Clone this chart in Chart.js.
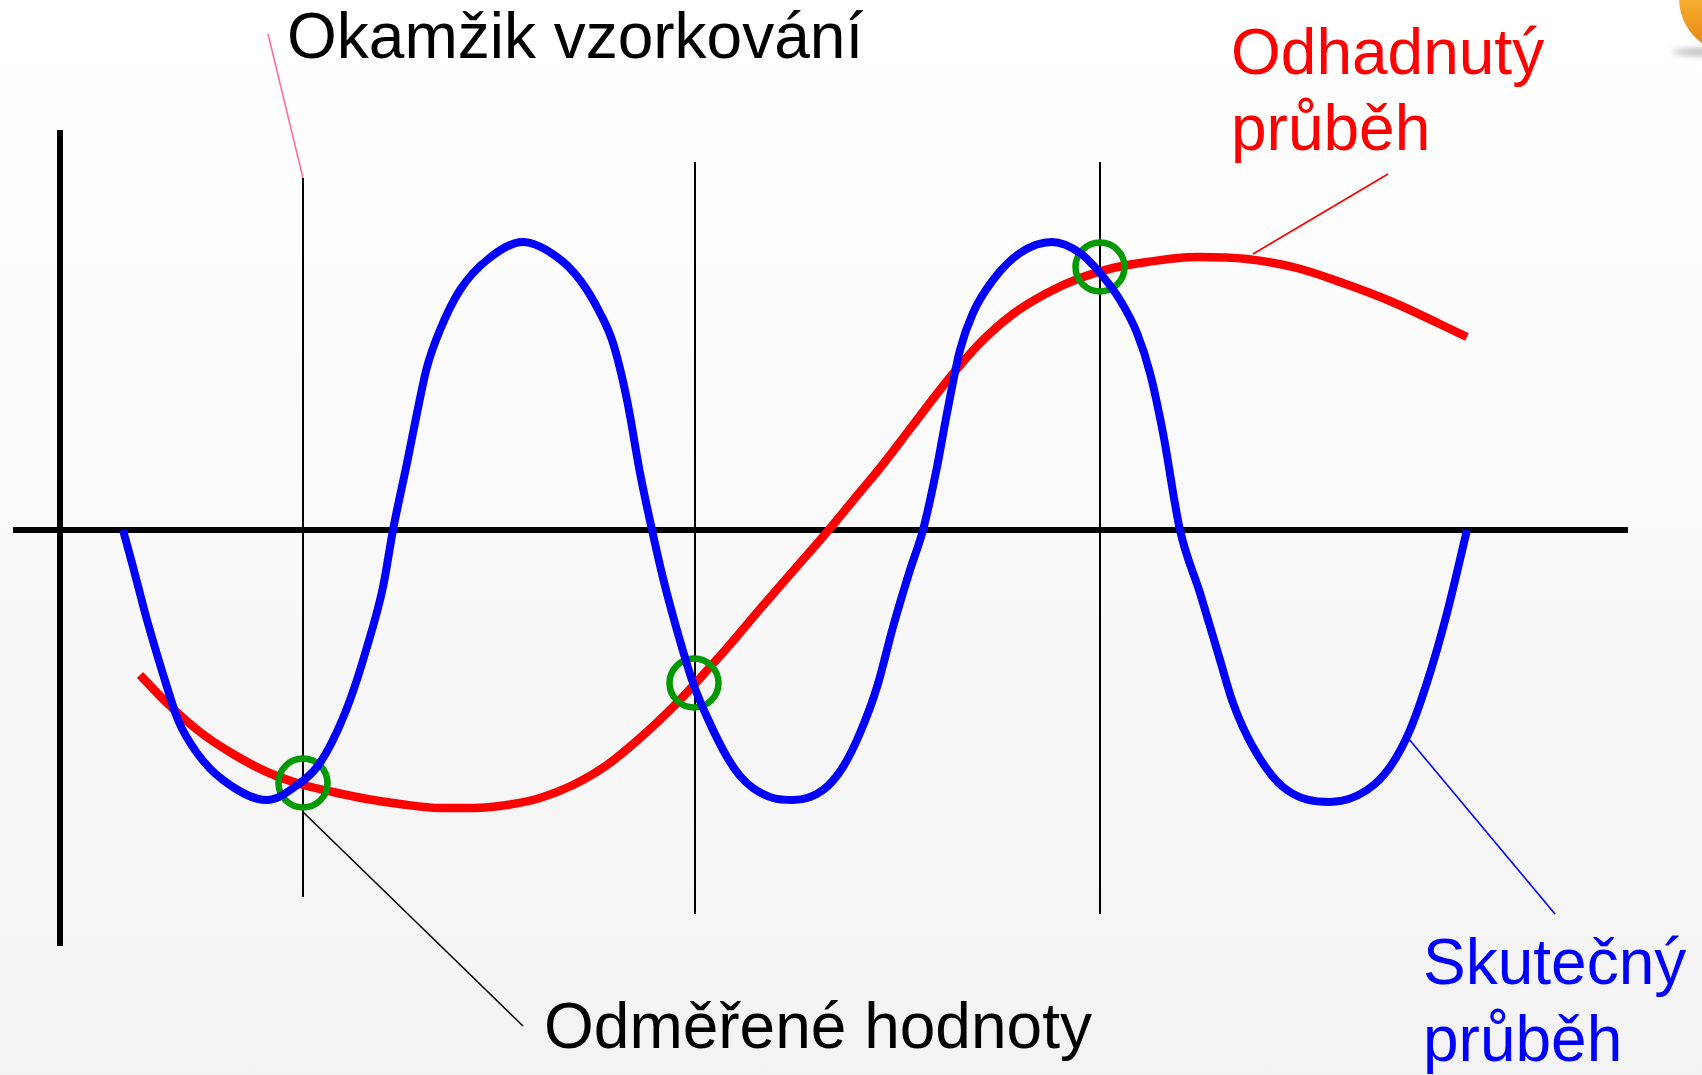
<!DOCTYPE html>
<html>
<head>
<meta charset="utf-8">
<script src="https://cdn.jsdelivr.net/npm/chart.js@4/dist/chart.umd.min.js"></script>
<style>
html,body{margin:0;padding:0;width:1702px;height:1075px;overflow:hidden;background:linear-gradient(#ffffff,#f3f3f3);}
canvas{display:block}
</style>
</head>
<body>
<canvas id="c" width="1702" height="1075"></canvas>
<script>
// ---- data (time t, amplitude v) ----
const actualT = [0.63,0.72,0.87,1.07,1.18,1.37,1.63,2.07,2.40,2.57,2.73,2.90,3.07,3.23,3.33,3.47,3.57,3.67,3.80,4.00,4.27,4.63,4.97,5.20,5.40,5.53,5.67,5.80,5.92,6.03,6.13,6.23,6.33,6.47,6.67,6.80,6.93,7.13,7.33,7.63,7.83,8.00,8.17,8.33,8.50,8.63,8.77,8.87,9.00,9.13,9.33,9.60,9.92,10.20,10.40,10.60,10.77,10.90,11.03,11.20,11.40,11.60,11.73,11.93,12.23,12.70,13.07,13.30,13.50,13.70,13.87,14.07];
const actualV = [0,-0.33,-0.90,-1.57,-1.90,-2.23,-2.50,-2.70,-2.53,-2.37,-2.10,-1.70,-1.17,-0.57,0,0.67,1.17,1.63,2.00,2.40,2.70,2.88,2.73,2.50,2.17,1.87,1.30,0.57,0,-0.48,-0.86,-1.21,-1.53,-1.87,-2.27,-2.46,-2.58,-2.68,-2.70,-2.60,-2.37,-2.03,-1.57,-0.97,-0.40,0,0.63,1.17,1.80,2.17,2.50,2.77,2.88,2.77,2.57,2.30,1.97,1.57,0.97,0,-0.63,-1.30,-1.73,-2.17,-2.57,-2.72,-2.60,-2.37,-2.00,-1.43,-0.83,0];

const estimatedT = [0.80,1.07,1.40,1.73,2.07,2.40,2.73,3.07,3.40,3.80,4.13,4.47,4.80,5.13,5.47,5.80,6.13,6.33,6.50,6.67,7.00,7.33,7.67,8.00,8.20,8.53,8.87,9.20,9.53,9.87,10.20,10.53,10.87,11.37,11.87,12.37,12.80,13.30,14.07];
const estimatedV = [-1.45,-1.73,-2.02,-2.24,-2.42,-2.54,-2.62,-2.69,-2.74,-2.78,-2.78,-2.75,-2.68,-2.55,-2.35,-2.08,-1.77,-1.56,-1.37,-1.18,-0.79,-0.41,-0.02,0.38,0.62,1.05,1.49,1.87,2.16,2.37,2.52,2.62,2.68,2.73,2.71,2.62,2.48,2.29,1.93];

const sampleT = [2.43, 6.34, 10.40];
const sampleV = [-2.53, -1.53, 2.63];
const sampleLineT = [2.43, 6.35, 10.40];
const sampleLineTop = [3.52, 3.68, 3.68];
const sampleLineBottom = [-3.67, -3.84, -3.84];

const xAxisT = [-0.47, 15.68];
const yAxisV = [4.00, -4.16];

const labelTexts = ['Okamžik vzorkování', 'Odhadnutý', 'průběh', 'Odměřené hodnoty', 'Skutečný', 'průběh'];

// leader lines [t0, v0, t1, v1]
const leaderSampling = [2.08, 4.96, 2.43, 3.52];
const leaderMeasured = [2.43, -2.82, 4.63, -4.96];
const leaderEstimated = [11.93, 2.76, 13.28, 3.56];
const leaderActual = [13.48, -2.08, 14.95, -3.84];

// ---- build ----
const pts = (ts, vs) => ts.map((t, i) => ({x: t, y: vs[i]}));
const seg = (a) => [{x: a[0], y: a[1]}, {x: a[2], y: a[3]}];

const lineBase = {pointRadius: 0, pointHoverRadius: 0, fill: false, clip: false, tension: 0};
const datasets = [];

datasets.push(Object.assign({}, lineBase, {label:'xaxis', data: [{x:xAxisT[0],y:0},{x:xAxisT[1],y:0}], borderColor:'#000', borderWidth:6, order:9}));
datasets.push(Object.assign({}, lineBase, {label:'yaxis', data: [{x:0,y:yAxisV[0]},{x:0,y:yAxisV[1]}], borderColor:'#000', borderWidth:6, order:9}));
sampleLineT.forEach((t, i) => {
  datasets.push(Object.assign({}, lineBase, {label:'s'+i, data: [{x:t,y:sampleLineTop[i]},{x:t,y:sampleLineBottom[i]}], borderColor:'#000', borderWidth:2, order:8}));
});
datasets.push(Object.assign({}, lineBase, {label:'l1', data: seg(leaderSampling), borderColor:'#ff6f9c', borderWidth:1.6, order:7}));
datasets.push(Object.assign({}, lineBase, {label:'l2', data: seg(leaderMeasured), borderColor:'#000', borderWidth:1.6, order:7}));
datasets.push(Object.assign({}, lineBase, {label:'l3', data: seg(leaderEstimated), borderColor:'#ff0000', borderWidth:1.6, order:7}));
datasets.push(Object.assign({}, lineBase, {label:'l4', data: seg(leaderActual), borderColor:'#0000ff', borderWidth:1.6, order:7}));

datasets.push(Object.assign({}, lineBase, {label:'Odhadnutý průběh', data: pts(estimatedT, estimatedV), borderColor:'#ff0000', borderWidth:8.5, cubicInterpolationMode:'monotone', borderCapStyle:'butt', order:4}));
datasets.push({label:'Odměřené hodnoty', type:'scatter', data: pts(sampleT, sampleV), showLine:false, pointRadius:24.5, pointHoverRadius:24.5, pointBorderWidth:6.5, pointBorderColor:'#009a00', pointBackgroundColor:'rgba(0,0,0,0)', clip:false, order:3});
datasets.push(Object.assign({}, lineBase, {label:'Skutečný průběh', data: pts(actualT, actualV), borderColor:'#0000ff', borderWidth:8, cubicInterpolationMode:'monotone', borderCapStyle:'butt', order:2}));

// labels anchored in data coordinates
const labelAnchors = [
  {i:0, t:2.27, v:4.72, color:'#000000'},
  {i:1, t:11.71, v:4.56, color:'#ff0000'},
  {i:2, t:11.71, v:3.80, color:'#ff0000'},
  {i:3, t:4.84, v:-5.18, color:'#000000'},
  {i:4, t:13.63, v:-4.54, color:'#0000ff'},
  {i:5, t:13.63, v:-5.31, color:'#0000ff'}
];

const labelPlugin = {
  id: 'labels',
  afterDatasetsDraw(chart) {
    const ctx = chart.ctx, xs = chart.scales.x, ys = chart.scales.y;
    ctx.save();
    ctx.font = '64px "Liberation Sans", Arial, sans-serif';
    ctx.textAlign = 'left';
    ctx.textBaseline = 'alphabetic';
    labelAnchors.forEach(a => {
      ctx.fillStyle = a.color;
      ctx.fillText(labelTexts[a.i], xs.getPixelForValue(a.t), ys.getPixelForValue(a.v));
    });
    ctx.restore();
  }
};

const logoPlugin = {
  id: 'logo',
  beforeDatasetsDraw(chart) {
    const ctx = chart.ctx;
    ctx.save();
    ctx.filter = 'blur(3px)';
    ctx.fillStyle = 'rgba(120,120,120,0.55)';
    ctx.beginPath();
    ctx.ellipse(1712, 52, 40, 3.5, 0, 0, Math.PI * 2);
    ctx.fill();
    ctx.filter = 'none';
    const g = ctx.createLinearGradient(0, 0, 0, 48);
    g.addColorStop(0, '#f5ad2e');
    g.addColorStop(1, '#e98516');
    ctx.fillStyle = g;
    ctx.beginPath();
    ctx.arc(1735, -2, 56, 0, Math.PI * 2);
    ctx.fill();
    ctx.restore();
  }
};

new Chart(document.getElementById('c'), {
  type: 'line',
  data: {datasets},
  options: {
    responsive: false,
    maintainAspectRatio: false,
    animation: false,
    events: [],
    layout: {padding: 0, autoPadding: false},
    plugins: {legend: {display: false}, tooltip: {enabled: false}},
    scales: {
      x: {type: 'linear', min: -0.60, max: 16.42, display: false},
      y: {type: 'linear', min: -5.45, max: 5.30, display: false}
    }
  },
  plugins: [logoPlugin, labelPlugin]
});
</script>
</body>
</html>
